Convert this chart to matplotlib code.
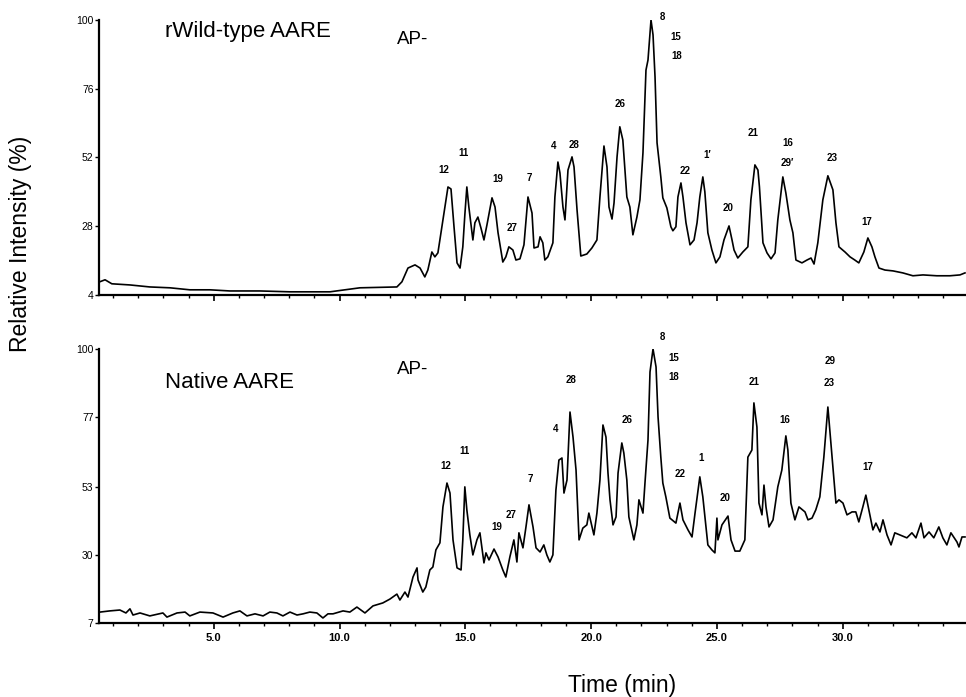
import numpy as np
import matplotlib
matplotlib.use("Agg")
import matplotlib.pyplot as plt
from matplotlib.ticker import MultipleLocator

plt.rcParams['font.family'] = ['Liberation Sans', 'DejaVu Sans']

# rWild-type AARE trace (time in min, relative intensity in %)
top_time = [0.44, 0.68, 0.95, 1.67, 2.46, 3.26, 4.05, 4.85, 5.64, 6.84, 8.03, 9.62,
            10.81, 12.28, 12.48, 12.72, 13.0, 13.2, 13.39, 13.51, 13.67, 13.79, 13.91,
            14.11, 14.31, 14.43, 14.55, 14.67, 14.79, 14.9, 14.98, 15.06, 15.14, 15.3,
            15.38, 15.5, 15.62, 15.74, 15.86, 16.06, 16.18, 16.3, 16.49, 16.61, 16.73,
            16.89, 17.01, 17.17, 17.33, 17.49, 17.65, 17.73, 17.89, 17.97, 18.08, 18.16,
            18.28, 18.48, 18.56, 18.68, 18.76, 18.88, 18.96, 19.08, 19.24, 19.32, 19.44,
            19.59, 19.83, 20.03, 20.23, 20.35, 20.51, 20.63, 20.71, 20.83, 20.91, 21.03,
            21.14, 21.26, 21.42, 21.54, 21.66, 21.82, 21.94, 22.06, 22.18, 22.26, 22.38,
            22.46, 22.54, 22.62, 22.77, 22.85, 23.01, 23.17, 23.25, 23.37, 23.45, 23.57,
            23.65, 23.77, 23.93, 24.09, 24.21, 24.32, 24.44, 24.52, 24.64, 24.8, 24.96,
            25.12, 25.28, 25.48, 25.6, 25.68, 25.83, 26.03, 26.23, 26.35, 26.51, 26.63,
            26.69, 26.83, 26.99, 27.15, 27.31, 27.42, 27.62, 27.74, 27.9, 28.02, 28.14,
            28.38, 28.58, 28.74, 28.86, 29.01, 29.21, 29.41, 29.61, 29.73, 29.85, 30.09,
            30.29, 30.48, 30.64, 30.84, 31.0, 31.16, 31.28, 31.44, 31.68, 32.0, 32.39,
            32.79, 33.19, 33.74, 34.26, 34.66, 34.86]
top_int = [8.5, 9.3, 7.9, 7.5, 6.8, 6.5, 5.8, 5.8, 5.4, 5.4, 5.1, 5.1,
           6.5, 6.8, 8.6, 13.4, 14.5, 13.4, 10.3, 12.7, 19.0, 17.3, 18.7,
           30.2, 41.7, 41.0, 27.8, 15.2, 13.4, 20.8, 31.9, 41.7, 34.7, 23.2,
           29.2, 31.2, 27.4, 23.2, 28.5, 37.9, 34.7, 25.7, 15.5, 17.3, 20.8,
           19.7, 16.2, 16.6, 21.5, 38.2, 32.6, 20.4, 20.8, 24.3, 22.2, 16.2,
           17.3, 22.2, 38.2, 50.4, 46.6, 34.7, 30.2, 47.6, 52.2, 48.7, 33.7,
           17.6, 18.3, 20.4, 23.2, 38.2, 56.0, 48.7, 34.7, 30.5, 36.1, 52.2,
           62.7, 58.1, 38.2, 34.7, 25.0, 31.2, 37.2, 53.6, 82.5, 86.0, 100.0,
           94.8, 80.1, 57.1, 45.2, 37.9, 34.4, 27.8, 26.4, 27.8, 38.2, 43.1,
           38.2, 29.2, 21.5, 23.2, 29.2, 38.2, 45.2, 40.0, 25.7, 19.7, 15.2,
           17.3, 23.2, 28.1, 23.2, 19.7, 16.9, 19.0, 20.8, 37.2, 49.4, 47.6,
           41.7, 22.2, 18.7, 16.6, 18.7, 30.2, 45.2, 39.6, 30.2, 25.7, 16.2,
           15.2, 16.2, 16.9, 14.8, 22.2, 37.2, 45.6, 40.7, 29.2, 20.8, 19.0,
           17.3, 16.2, 15.2, 19.0, 23.9, 20.8, 17.3, 13.4, 12.7, 12.4, 11.7,
           10.7, 11.0, 10.7, 10.7, 11.0, 11.7]

# Native AARE trace
bot_time = [0.48, 0.87, 1.27, 1.51, 1.67, 1.79, 2.07, 2.46, 2.98, 3.14, 3.54, 3.86,
            4.05, 4.45, 4.97, 5.37, 5.76, 6.04, 6.32, 6.64, 6.96, 7.23, 7.51, 7.75,
            8.03, 8.31, 8.55, 8.82, 9.10, 9.34, 9.54, 9.74, 10.14, 10.41, 10.69, 11.01,
            11.33, 11.72, 12.0, 12.28, 12.4, 12.6, 12.72, 12.92, 13.08, 13.12, 13.31,
            13.43, 13.59, 13.71, 13.83, 13.99, 14.11, 14.27, 14.39, 14.51, 14.67, 14.83,
            14.9, 14.98, 15.06, 15.18, 15.3, 15.46, 15.58, 15.74, 15.82, 15.94, 16.14,
            16.3, 16.49, 16.61, 16.77, 16.93, 17.05, 17.13, 17.29, 17.41, 17.53, 17.69,
            17.81, 17.97, 18.12, 18.24, 18.36, 18.48, 18.6, 18.72, 18.84, 18.92, 19.04,
            19.16, 19.28, 19.4, 19.52, 19.67, 19.83, 19.91, 20.11, 20.23, 20.35, 20.47,
            20.59, 20.67, 20.75, 20.87, 20.99, 21.07, 21.22, 21.3, 21.42, 21.5, 21.7,
            21.82, 21.9, 22.06, 22.14, 22.26, 22.34, 22.46, 22.58, 22.66, 22.77, 22.85,
            22.97, 23.13, 23.37, 23.53, 23.65, 23.85, 24.01, 24.13, 24.32, 24.44, 24.64,
            24.8, 24.92, 25.0, 25.04, 25.2, 25.44, 25.56, 25.72, 25.91, 26.11, 26.23,
            26.39, 26.47, 26.59, 26.67, 26.79, 26.87, 26.95, 27.07, 27.23, 27.42, 27.58,
            27.74, 27.82, 27.94, 28.1, 28.26, 28.5, 28.62, 28.78, 28.93, 29.09, 29.25,
            29.41, 29.61, 29.73, 29.85, 30.01, 30.17, 30.37, 30.52, 30.64, 30.8, 30.92,
            31.04, 31.2, 31.32, 31.48, 31.6, 31.76, 31.92, 32.07, 32.27, 32.55, 32.75,
            32.91, 33.11, 33.23, 33.43, 33.62, 33.82, 33.98, 34.14, 34.3, 34.54, 34.62,
            34.74, 34.86]
bot_int = [10.7, 11.1, 11.4, 10.4, 11.8, 9.7, 10.4, 9.4, 10.4, 9.0, 10.4, 10.7,
           9.4, 10.7, 10.4, 9.0, 10.4, 11.1, 9.4, 10.1, 9.4, 10.7, 10.4, 9.4,
           10.7, 9.7, 10.1, 10.7, 10.4, 8.7, 10.1, 10.1, 11.1, 10.7, 12.4, 10.4,
           12.8, 13.8, 15.1, 16.8, 14.8, 17.5, 15.8, 22.6, 25.7, 21.6, 17.5,
           19.2, 25.0, 26.0, 31.8, 34.2, 46.4, 54.5, 51.1, 35.2, 25.7, 25.0,
           35.2, 53.2, 45.4, 36.9, 30.1, 35.2, 37.6, 27.4, 30.8, 28.4, 32.1,
           29.4, 25.0, 22.6, 29.4, 35.2, 27.7, 37.6, 32.5, 39.6, 47.1, 39.6,
           32.5, 31.1, 33.5, 30.1, 27.7, 30.1, 52.1, 62.3, 63.0, 51.1, 55.5,
           78.6, 70.1, 58.9, 35.2, 39.2, 40.3, 44.3, 36.9, 44.3, 55.5, 74.2,
           70.1, 57.9, 48.8, 40.3, 43.0, 57.9, 68.1, 64.7, 55.5, 43.0, 35.2,
           40.3, 48.8, 44.3, 54.5, 69.1, 92.2, 100.0, 93.9, 76.9, 63.3, 54.5,
           49.8, 42.6, 40.9, 47.7, 42.0, 38.6, 36.2, 44.3, 56.6, 49.8, 33.5,
           31.8, 30.8, 42.6, 35.2, 40.3, 43.3, 35.2, 31.4, 31.4, 35.2, 63.3,
           65.7, 81.7, 73.5, 47.7, 43.7, 53.8, 46.4, 39.6, 42.0, 53.2, 58.9,
           70.5, 65.7, 47.7, 42.0, 46.4, 44.7, 42.0, 42.6, 45.4, 49.8, 63.3,
           80.3, 60.0, 47.7, 48.8, 47.7, 43.7, 44.7, 44.7, 41.3, 46.4, 50.4,
           45.4, 38.6, 40.9, 37.9, 42.0, 36.9, 33.5, 37.6, 36.9, 35.9, 37.6,
           35.9, 40.9, 35.9, 37.9, 35.9, 39.6, 35.9, 33.5, 37.6, 34.5, 32.8,
           36.2, 36.2]

# peak annotations (label, time, intensity)
top_labels = ["12", "11", "19", "27", "7", "4", "28", "26", "8", "15", "18", "22",
              "1\u2032", "20", "21", "16", "29\u2032", "23", "17"]
top_lab_t = [14.15, 14.94, 16.3, 16.85, 17.53, 18.52, 19.31, 21.15, 22.85, 23.37, 23.41,
             23.73, 24.62, 25.44, 26.43, 27.82, 27.8, 29.57, 30.96]
top_lab_i = [47.6, 53.6, 44.5, 27.4, 44.9, 56.0, 56.4, 70.7, 101.0, 94.1, 87.4,
             47.3, 52.9, 34.4, 60.6, 57.1, 50.1, 51.8, 29.5]

bot_labels = ["12", "11", "19", "27", "7", "4", "28", "26", "8", "15", "18", "22",
              "1", "20", "21", "16", "29", "23", "17"]
bot_lab_t = [14.23, 14.98, 16.26, 16.81, 17.57, 18.6, 19.2, 21.42, 22.85, 23.29, 23.29,
             23.53, 24.36, 25.32, 26.47, 27.7, 29.49, 29.45, 31.0]
bot_lab_i = [60.3, 65.4, 39.6, 43.7, 55.9, 72.8, 89.5, 75.9, 104.1, 96.9, 90.5,
             57.6, 63.0, 49.4, 88.8, 75.9, 95.9, 88.5, 60.0]

top_yticks = [4, 28, 52, 76, 100]
bot_yticks = [7, 30, 53, 77, 100]
x_major = [5, 10, 15, 20, 25, 30]
x_major_labels = ["5.0", "10.0", "15.0", "20.0", "25.0", "30.0"]

fig = plt.figure(figsize=(9.66, 6.97), dpi=100)
ax_top = fig.add_axes([0.1025, 0.5768, 0.8975, 0.3946])
ax_bot = fig.add_axes([0.1025, 0.1062, 0.8975, 0.3931])

panels = [
    (ax_top, top_time, top_int, top_yticks, top_labels, top_lab_t, top_lab_i, "rWild-type AARE", 95.8),
    (ax_bot, bot_time, bot_int, bot_yticks, bot_labels, bot_lab_t, bot_lab_i, "Native AARE", 88.5),
]

for ax, t, y, yt, labs, lt, li, name, name_y in panels:
    ax.plot(t, y, color="black", lw=1.2)
    ax.set_xlim(0.44, 34.9)
    ax.set_ylim(yt[0], yt[-1])
    ax.set_yticks(yt)
    ax.set_yticklabels([str(v) for v in yt], fontsize=7.5)
    ax.set_xticks(x_major)
    ax.xaxis.set_minor_locator(MultipleLocator(1))
    for side in ["top", "right"]:
        ax.spines[side].set_visible(False)
    ax.spines["left"].set_linewidth(1.6)
    ax.spines["bottom"].set_linewidth(1.6)
    ax.tick_params(axis="y", length=3, width=1, pad=1)
    ax.tick_params(axis="x", which="major", length=4, width=1.2)
    ax.tick_params(axis="x", which="minor", length=2.5, width=1)
    for s, tx, ty in zip(labs, lt, li):
        ax.text(tx, ty, s, fontsize=7, fontweight="bold", ha="center", va="center")
    ax.text(3.06, name_y, name, fontsize=16, ha="left", va="center")
    ax.text(12.28, 93.0, "AP-", fontsize=13.5, ha="left", va="center")

ax_top.set_xticklabels([])
ax_bot.set_xticklabels(x_major_labels, fontsize=8, fontweight="bold")

fig.text(0.644, 0.0172, "Time (min)", fontsize=16.5, ha="center", va="center")
fig.text(0.021, 0.65, "Relative Intensity (%)", fontsize=16.5, rotation=90,
         ha="center", va="center")

fig.savefig("out.png", dpi=100)
